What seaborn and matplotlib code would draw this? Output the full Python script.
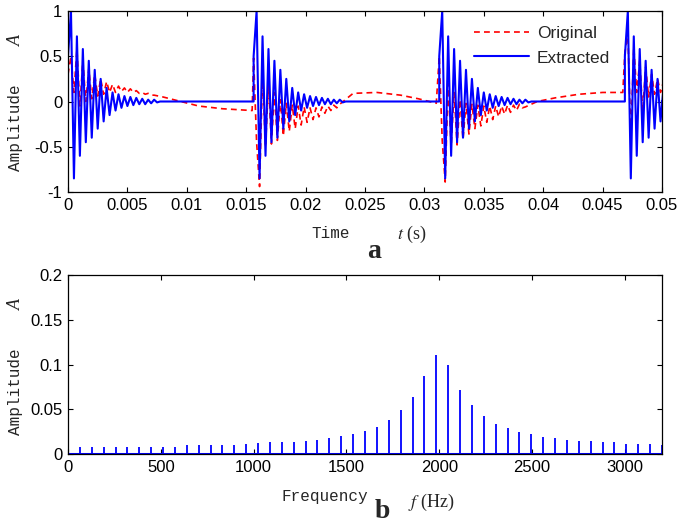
import matplotlib
matplotlib.use("Agg")
import matplotlib.pyplot as plt
import seaborn as sns
import numpy as np
import pandas as pd

# ---------------- (a) senal en el tiempo ----------------
inicio_rafagas = [0.0, 0.015625, 0.03125, 0.046875]
medio_periodo = 0.00025   # tiempo entre picos sucesivos

picos_extraida = [0.5, 1.0, -0.85, 0.72, -0.6, 0.58, -0.45, 0.45, -0.4, 0.35,
                  -0.3, 0.25, -0.22, 0.15, -0.15, 0.1, -0.1, 0.08, -0.07, 0.06,
                  -0.05, 0.05, -0.04, 0.04, -0.03, 0.03, -0.03, 0.02, -0.02,
                  0.02, -0.01]

picos_original = [
    [0.3, 0.5, 0.1, 0.58, -0.05, 0.45, 0.0, 0.36, 0.03, 0.3, 0.06, 0.25, 0.08,
     0.22, 0.1, 0.19, 0.1, 0.17, 0.11, 0.15, 0.1, 0.14, 0.1, 0.12, 0.09, 0.1,
     0.08, 0.09, 0.07, 0.07],
    [0.48, -0.45, -0.94, 0.3, -0.5, 0.2, -0.47, 0.1, -0.43, 0.02, -0.38, -0.02,
     -0.33, -0.04, -0.3, -0.05, -0.26, -0.06, -0.23, -0.07, -0.2, -0.07, -0.17,
     -0.06, -0.13, -0.05, -0.1, -0.04, -0.07, -0.03],
    [0.5, -0.43, -0.89, 0.2, -0.5, 0.1, -0.48, 0.02, -0.42, -0.02, -0.36, -0.03,
     -0.3, -0.04, -0.27, -0.05, -0.23, -0.05, -0.2, -0.05, -0.17, -0.05, -0.14,
     -0.04, -0.12, -0.04, -0.1, -0.03, -0.07, -0.06],
    [0.54, 0.77, -0.39, 0.6, 0.1, 0.45, -0.11, 0.38, 0.05, 0.3, 0.08, 0.25,
     0.1, 0.22, 0.1, 0.2],
]
# tramo lento del original entre rafagas
cola_original_t = [[0.008, 0.0095, 0.011, 0.013, 0.0155],
                   [0.024, 0.026, 0.028, 0.0295, 0.031],
                   [0.0395, 0.041, 0.043, 0.045, 0.0467],
                   []]
cola_original_v = [[0.05, 0.0, -0.05, -0.08, -0.1],
                   [0.09, 0.1, 0.07, 0.03, -0.02],
                   [0.0, 0.04, 0.08, 0.1, 0.1],
                   []]

# ---------------- (b) espectro ----------------
frec_espectro = [64, 128, 192, 256, 320, 384, 448, 512, 576, 640, 704, 768, 832,
                 896, 960, 1024, 1088, 1152, 1216, 1280, 1344, 1408, 1472, 1536,
                 1600, 1664, 1728, 1792, 1856, 1920, 1984, 2048, 2112, 2176, 2240,
                 2304, 2368, 2432, 2496, 2560, 2624, 2688, 2752, 2816, 2880, 2944,
                 3008, 3072, 3136, 3200]
amp_espectro = [0.0085, 0.0085, 0.0085, 0.0085, 0.0085, 0.0085, 0.0085, 0.0085,
                0.0085, 0.0104, 0.0104, 0.0104, 0.0104, 0.0104, 0.0115, 0.0122,
                0.0133, 0.0133, 0.0133, 0.015, 0.016, 0.0185, 0.0207, 0.0226,
                0.0256, 0.0304, 0.0378, 0.0489, 0.0644, 0.0878, 0.1107, 0.100,
                0.0722, 0.0548, 0.043, 0.0333, 0.0289, 0.0244, 0.0226, 0.0193,
                0.0178, 0.0163, 0.0148, 0.0148, 0.0133, 0.0133, 0.0115, 0.0115,
                0.0115, 0.010]


def senal_extraida():
    t, v = [], []
    for s in inicio_rafagas:
        tt = s + medio_periodo * np.arange(len(picos_extraida))
        t += [s] + list(tt) + [tt[-1] + medio_periodo]
        v += [0.0] + picos_extraida + [0.0]
    t.append(0.05)
    v.append(0.0)
    return pd.DataFrame({'t': t, 'A': v})


def senal_original():
    t, v = [], []
    for k, s in enumerate(inicio_rafagas):
        tt = s + medio_periodo * np.arange(len(picos_original[k]))
        t += list(tt) + cola_original_t[k]
        v += picos_original[k] + cola_original_v[k]
    return pd.DataFrame({'t': t, 'A': v})


sns.set_style("ticks")
plt.rcParams['font.family'] = ['Liberation Sans', 'DejaVu Sans']
plt.rcParams['mathtext.fontset'] = 'stix'
plt.rcParams['xtick.direction'] = 'in'
plt.rcParams['ytick.direction'] = 'in'
plt.rcParams['xtick.top'] = True
plt.rcParams['ytick.right'] = True

W, H = 685, 526
fig = plt.figure(figsize=(W / 100, H / 100), dpi=100)
ax1 = fig.add_axes([68 / W, 1 - 192 / H, 594 / W, 181 / H])
ax2 = fig.add_axes([68 / W, 1 - 454.3 / H, 594 / W, 179.3 / H])

azul = '#0000FF'
rojo = '#FF0000'

sns.lineplot(data=senal_original(), x='t', y='A', sort=False, estimator=None,
             color=rojo, linewidth=1.2, ax=ax1, label='Original')
ax1.lines[-1].set_dashes([3.5, 2.5])
sns.lineplot(data=senal_extraida(), x='t', y='A', sort=False, estimator=None,
             color=azul, linewidth=1.5, ax=ax1, label='Extracted')

ax1.set_xlim(0, 0.05)
ax1.set_ylim(-1, 1)
ax1.set_xticks(np.arange(0, 0.0501, 0.005))
ax1.set_xticklabels(['0', '0.005', '0.01', '0.015', '0.02', '0.025', '0.03',
                     '0.035', '0.04', '0.045', '0.05'])
ax1.set_yticks([-1, -0.5, 0, 0.5, 1])
ax1.set_yticklabels(['-1', '-0.5', '0', '0.5', '1'])
ax1.set_xlabel('')
ax1.set_ylabel('')
ax1.legend(loc='upper left', bbox_to_anchor=(465 / W, 1 - 17 / H),
           bbox_transform=fig.transFigure, frameon=False, fontsize=12.5,
           borderpad=0, handlelength=3.2, handletextpad=0.45,
           labelspacing=0.55)

# espectro
ax2.vlines(frec_espectro, 0, amp_espectro, color=azul, linewidth=1.3)
ax2.axhline(0, color=azul, linewidth=2.2)
ax2.set_xlim(0, 3200)
ax2.set_ylim(0, 0.2)
ax2.set_xticks([0, 500, 1000, 1500, 2000, 2500, 3000])
ax2.set_yticks([0, 0.05, 0.1, 0.15, 0.2])
ax2.set_yticklabels(['0', '0.05', '0.1', '0.15', '0.2'])

for ax in (ax1, ax2):
    for sp in ax.spines.values():
        sp.set_visible(True)
        sp.set_color('black')
        sp.set_linewidth(0.9)
        sp.set_zorder(5)
    ax.tick_params(axis='both', which='both', length=3.6, width=0.8,
                   labelsize=12, pad=4, colors='black')


def texto(x, y, s, **kw):
    fig.text(x / W, 1 - y / H, s, ha='center', va='center', **kw)


mono = dict(family='Liberation Mono', fontsize=11.5)
texto(16, 128, 'Amplitude', rotation=90, **mono)
texto(16, 40, 'A', rotation=90, family='Liberation Serif', style='italic', fontsize=13)
texto(331, 233, 'Time', **mono)
texto(412, 234, r'$t$ (s)', family='Liberation Serif', fontsize=13)
texto(374, 251, 'a', family='Liberation Serif', weight='bold', fontsize=20)

texto(16, 392, 'Amplitude', rotation=90, **mono)
texto(16, 305, 'A', rotation=90, family='Liberation Serif', style='italic', fontsize=13)
texto(325, 496, 'Frequency', **mono)
texto(431, 502, r'$f$ (Hz)', family='Liberation Serif', fontsize=13)
texto(382, 511, 'b', family='Liberation Serif', weight='bold', fontsize=20)

fig.savefig('out.png', dpi=100)
